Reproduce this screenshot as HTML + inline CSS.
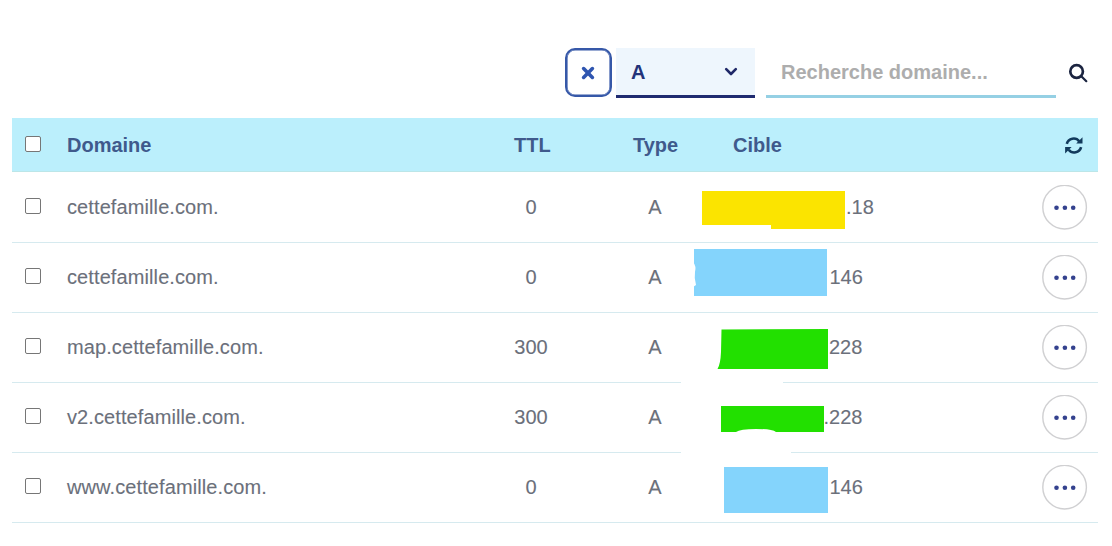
<!DOCTYPE html>
<html><head><meta charset="utf-8">
<style>
*{box-sizing:border-box;margin:0;padding:0}
html,body{width:1112px;height:546px;overflow:hidden;background:#fff;font-family:"Liberation Sans",sans-serif}
.abs{position:absolute}
.closebtn{left:565px;top:48px;width:46.5px;height:49px;border:2px solid #3658a8;border-radius:10px;box-shadow:inset 0 0 0 0.6px #3658a8}
.sel{left:616px;top:48px;width:139px;height:50px;background:#eef6fd;border-bottom:3px solid #1f2b70}
.selA{left:631px;top:58px;font-size:20px;font-weight:bold;color:#23337a;line-height:28px}
.search{left:781px;top:58px;font-size:20px;font-weight:bold;color:#adadad;line-height:28px}
.underline{left:766px;top:95px;width:290px;height:3px;background:#95d0e4}
.head{left:12px;top:118px;width:1086px;height:54px;background:#bbeffc;border-bottom:1px solid #bce6e8}
.ht{font-size:20px;font-weight:bold;color:#3f5a8c;line-height:24px;top:133px}
.row{left:12px;width:1086px;height:70px;border-bottom:1px solid #d6eaef}
.rt{font-size:20px;color:#6b707b;line-height:24px;letter-spacing:0.1px;-webkit-text-stroke:0.1px #6b707b}
.cb{width:16px;height:16px;border:1px solid #767676;border-radius:2px;background:#fff}
.ttl{left:481px;width:100px;text-align:center}
.typ{left:605px;width:100px;text-align:center}
.cib0,.cib1,.cib2,.cib3,.cib4{letter-spacing:0}
.cib0{left:846px}.cib1{left:829.5px}.cib2{left:829px}.cib3{left:823.5px}.cib4{left:829.5px}
</style></head><body>
<div class="abs closebtn"><svg class="abs" style="left:13.5px;top:16px" width="14" height="14" viewBox="0 0 14 14"><path d="M2.6 2.6L11.4 11.4M11.4 2.6L2.6 11.4" stroke="#2f55b0" stroke-width="3.6" stroke-linecap="round"/></svg></div>
<div class="abs sel"></div>
<div class="abs selA">A</div>
<svg class="abs" style="left:724px;top:67px" width="14" height="9" viewBox="0 0 14 9"><path d="M2.2 2.2L7 7L11.8 2.2" fill="none" stroke="#1f2868" stroke-width="2.6" stroke-linecap="round" stroke-linejoin="round"/></svg>
<div class="abs search">Recherche domaine...</div>
<div class="abs underline"></div>
<svg class="abs" style="left:1066px;top:60px" width="24" height="26" viewBox="0 0 24 26"><circle cx="10.6" cy="11.5" r="6.3" fill="none" stroke="#1b2440" stroke-width="2.7"/><path d="M15.3 16.2L20.3 21.2" stroke="#1b2440" stroke-width="2.2" stroke-linecap="round"/></svg>

<div class="abs head"></div>
<div class="abs cb" style="left:25px;top:136px"></div>
<div class="abs ht" style="left:67px">Domaine</div>
<div class="abs ht" style="left:514px">TTL</div>
<div class="abs ht" style="left:633px">Type</div>
<div class="abs ht" style="left:733px">Cible</div>
<svg class="abs" style="left:1064px;top:136px" width="20" height="19" viewBox="0 0 20 19"><path d="M2.8 7.8A7.1 7.1 0 0 1 15.3 5.4M17.1 11.2A7.1 7.1 0 0 1 4.7 13.8" fill="none" stroke="#123a5c" stroke-width="2.6"/><path d="M18.5 1.2V7.6H12.2Z" fill="#123a5c"/><path d="M1.1 11H7.6L1.1 17.4Z" fill="#123a5c"/></svg>

<div class="abs row" style="top:173px"></div>
<div class="abs cb" style="left:25px;top:198px"></div>
<div class="abs rt" style="left:67px;top:195px">cettefamille.com.</div>
<div class="abs rt ttl" style="top:195px">0</div>
<div class="abs rt typ" style="top:195px">A</div>
<div class="abs rt cib0" style="top:195px">.18</div>
<svg class="abs" style="left:1042px;top:185px" width="46" height="46"><circle cx="22.6" cy="22.2" r="21.8" fill="#fff" stroke="#d0d0d2" stroke-width="1.4"/><circle cx="14.5" cy="22.7" r="2.3" fill="#34428e"/><circle cx="22.9" cy="22.7" r="2.3" fill="#34428e"/><circle cx="31.2" cy="22.7" r="2.3" fill="#34428e"/></svg>
<div class="abs row" style="top:243px"></div>
<div class="abs cb" style="left:25px;top:268px"></div>
<div class="abs rt" style="left:67px;top:265px">cettefamille.com.</div>
<div class="abs rt ttl" style="top:265px">0</div>
<div class="abs rt typ" style="top:265px">A</div>
<div class="abs rt cib1" style="top:265px">146</div>
<svg class="abs" style="left:1042px;top:255px" width="46" height="46"><circle cx="22.6" cy="22.2" r="21.8" fill="#fff" stroke="#d0d0d2" stroke-width="1.4"/><circle cx="14.5" cy="22.7" r="2.3" fill="#34428e"/><circle cx="22.9" cy="22.7" r="2.3" fill="#34428e"/><circle cx="31.2" cy="22.7" r="2.3" fill="#34428e"/></svg>
<div class="abs row" style="top:313px"></div>
<div class="abs cb" style="left:25px;top:338px"></div>
<div class="abs rt" style="left:67px;top:335px">map.cettefamille.com.</div>
<div class="abs rt ttl" style="top:335px">300</div>
<div class="abs rt typ" style="top:335px">A</div>
<div class="abs rt cib2" style="top:335px">228</div>
<svg class="abs" style="left:1042px;top:325px" width="46" height="46"><circle cx="22.6" cy="22.2" r="21.8" fill="#fff" stroke="#d0d0d2" stroke-width="1.4"/><circle cx="14.5" cy="22.7" r="2.3" fill="#34428e"/><circle cx="22.9" cy="22.7" r="2.3" fill="#34428e"/><circle cx="31.2" cy="22.7" r="2.3" fill="#34428e"/></svg>
<div class="abs row" style="top:383px"></div>
<div class="abs cb" style="left:25px;top:408px"></div>
<div class="abs rt" style="left:67px;top:405px">v2.cettefamille.com.</div>
<div class="abs rt ttl" style="top:405px">300</div>
<div class="abs rt typ" style="top:405px">A</div>
<div class="abs rt cib3" style="top:405px">.228</div>
<svg class="abs" style="left:1042px;top:395px" width="46" height="46"><circle cx="22.6" cy="22.2" r="21.8" fill="#fff" stroke="#d0d0d2" stroke-width="1.4"/><circle cx="14.5" cy="22.7" r="2.3" fill="#34428e"/><circle cx="22.9" cy="22.7" r="2.3" fill="#34428e"/><circle cx="31.2" cy="22.7" r="2.3" fill="#34428e"/></svg>
<div class="abs row" style="top:453px"></div>
<div class="abs cb" style="left:25px;top:478px"></div>
<div class="abs rt" style="left:67px;top:475px">www.cettefamille.com.</div>
<div class="abs rt ttl" style="top:475px">0</div>
<div class="abs rt typ" style="top:475px">A</div>
<div class="abs rt cib4" style="top:475px">146</div>
<svg class="abs" style="left:1042px;top:465px" width="46" height="46"><circle cx="22.6" cy="22.2" r="21.8" fill="#fff" stroke="#d0d0d2" stroke-width="1.4"/><circle cx="14.5" cy="22.7" r="2.3" fill="#34428e"/><circle cx="22.9" cy="22.7" r="2.3" fill="#34428e"/><circle cx="31.2" cy="22.7" r="2.3" fill="#34428e"/></svg>
<svg class="abs" style="left:0;top:0" width="1112" height="546" viewBox="0 0 1112 546">
<rect x="681" y="381" width="102" height="2" fill="#fff"/>
<rect x="681" y="451" width="110" height="2" fill="#fff"/>
<path d="M702 191H845V229H771V225H702Z" fill="#fbe400"/>
<path d="M694 249H827V296H694Z" fill="#84d4fc"/><path d="M693 262Q696.5 266 695 272Q694 278 696 285L693 287Z" fill="#fff"/>
<path d="M721.5 329.5L828 329V369H717.5Q720.5 364 721 352Z" fill="#22e000"/>
<path d="M721 406H824V432H776Q772 429 756 429Q740 429 736 432H721Z" fill="#22e000"/>
<path d="M724 467H828V513H724Z" fill="#84d4fc"/>
</svg>
</body></html>
